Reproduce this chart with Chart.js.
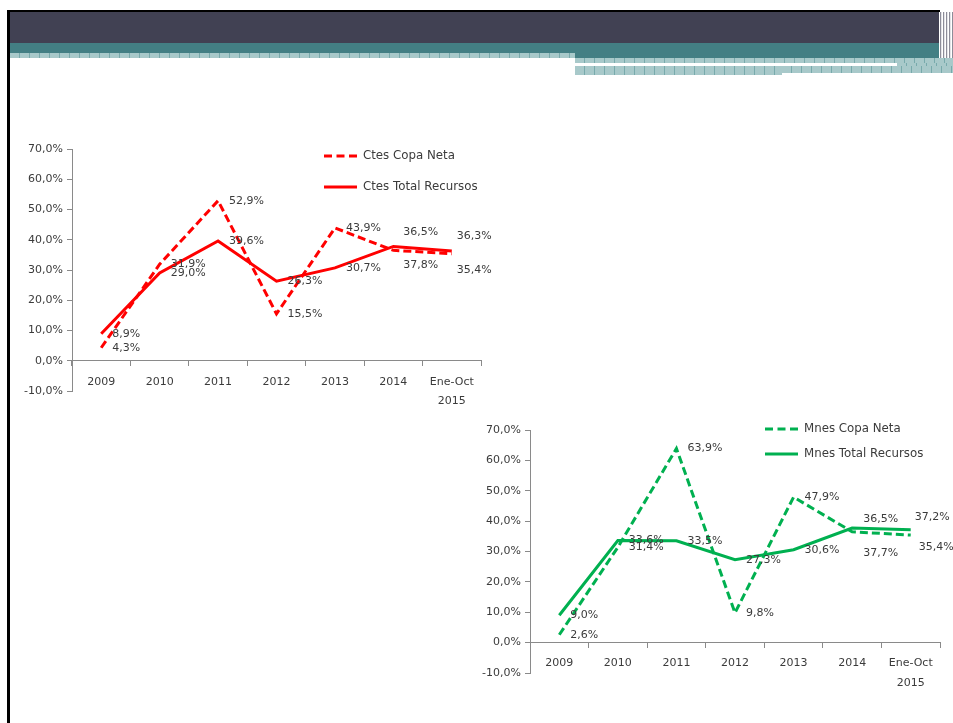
<!DOCTYPE html>
<html>
<head>
<meta charset="utf-8">
<script src="https://cdn.jsdelivr.net/npm/chart.js@4/dist/chart.umd.min.js"></script>
<style>
  body { margin: 0; background: #fff; width: 953px; height: 723px; overflow: hidden; position: relative; }
  .blk { position: absolute; }
  .hatch {
    background-color: #a8c9ca;
    background-image: repeating-linear-gradient(90deg, transparent 0 9px, #78aaac 9px 10px);
  }
  .edge {
    background-color: #d8d8dc;
    background-image: repeating-linear-gradient(90deg, #fff 0 1px, #8d8d99 1px 2px, #e4e4e8 2px 3px),
                      repeating-linear-gradient(0deg, transparent 0 2px, rgba(255,255,255,.6) 2px 3px);
  }
  canvas { position: absolute; }
</style>
</head>
<body>
<!-- slide frame -->
<div class="blk" style="left:7px;top:10px;width:3px;height:713px;background:#000"></div>
<div class="blk" style="left:7px;top:10px;width:933px;height:2px;background:#000"></div>
<div class="blk" style="left:10px;top:12px;width:930px;height:31px;background:#414153"></div>
<div class="blk" style="left:10px;top:43px;width:930px;height:10px;background:#437f84"></div>
<div class="blk" style="left:575px;top:53px;width:365px;height:5px;background:#437f84"></div>
<div class="blk hatch" style="left:10px;top:53px;width:565px;height:5px"></div>
<div class="blk hatch" style="left:575px;top:58px;width:378px;height:5px"></div>
<div class="blk hatch" style="left:897px;top:63px;width:56px;height:3px"></div>
<div class="blk hatch" style="left:575px;top:66px;width:207px;height:9px"></div>
<div class="blk hatch" style="left:782px;top:66px;width:171px;height:7px"></div>
<div class="blk edge" style="left:939px;top:12px;width:14px;height:46px"></div>

<canvas id="c1" width="500" height="290" style="left:10px;top:130px"></canvas>
<canvas id="c2" width="483" height="300" style="left:470px;top:410px"></canvas>

<script>
const years = ['2009', '2010', '2011', '2012', '2013', '2014', ['Ene-Oct', '2015']];

const ctesCopaNeta = [4.3, 31.9, 52.9, 15.5, 43.9, 36.5, 35.4];
const ctesTotalRecursos = [8.9, 29.0, 39.6, 26.3, 30.7, 37.8, 36.3];

const mnesCopaNeta = [2.6, 31.4, 63.9, 9.8, 47.9, 36.5, 35.4];
const mnesTotalRecursos = [9.0, 33.6, 33.5, 27.3, 30.6, 37.7, 37.2];

const yTicks = { min: -10, max: 70, step: 10 };

const FONT = '"DejaVu Sans", sans-serif';
const textColor = '#3b3b3b';
const axisColor = '#8a8a8a';
const pct = v => v.toFixed(1).replace('.', ',') + '%';

// label nudges (the 2014 / 2015 labels were moved apart in the original) and legend spots
const labelShifts = {
  c1: [{ 5: [10, -18], 6: [5, 16] }, { 5: [10, 19], 6: [5, -15] }],
  c2: [{ 5: [11, -13], 6: [8, 12] }, { 5: [11, 25], 6: [4, -12] }],
};
const legendSpots = {
  c1: { x: 314, y: 26, gap: 31 },
  c2: { x: 295, y: 19, gap: 25 },
};

// data labels + in-plot legend, Excel style
const labelsAndLegend = {
  id: 'labelsAndLegend',
  afterDatasetsDraw(chart) {
    const id = chart.canvas.id;
    const shifts = labelShifts[id];
    const lg = legendSpots[id];
    const ctx = chart.ctx;
    ctx.save();
    ctx.font = '11px ' + FONT;
    ctx.fillStyle = textColor;
    ctx.textAlign = 'left';
    ctx.textBaseline = 'middle';
    chart.data.datasets.forEach((ds, di) => {
      const meta = chart.getDatasetMeta(di);
      meta.data.forEach((pt, i) => {
        const s = shifts[di][i] || [11, 0];
        ctx.fillText(pct(ds.data[i]), pt.x + s[0], pt.y + s[1]);
      });
    });
    chart.data.datasets.forEach((ds, di) => {
      const y = lg.y + di * lg.gap;
      ctx.beginPath();
      ctx.strokeStyle = ds.borderColor;
      ctx.lineWidth = 3;
      ctx.setLineDash(ds.borderDash.length ? [8, 4.5] : []);
      ctx.moveTo(lg.x, y);
      ctx.lineTo(lg.x + 33, y);
      ctx.stroke();
      ctx.setLineDash([]);
      ctx.font = '11.8px ' + FONT;
      ctx.fillStyle = textColor;
      ctx.fillText(ds.label, lg.x + 39, y);
    });
    ctx.restore();
  }
};

function makeChart(canvas, color, names, dashed, solid, padding) {
  return new Chart(canvas.getContext('2d'), {
    type: 'line',
    data: {
      labels: years,
      datasets: [
        { label: names[0], data: dashed, borderColor: color, borderWidth: 3,
          borderDash: [8, 4], pointRadius: 0, tension: 0, fill: false },
        { label: names[1], data: solid, borderColor: color, borderWidth: 3,
          borderDash: [], pointRadius: 0, tension: 0, fill: false },
      ],
    },
    options: {
      responsive: false,
      animation: false,
      layout: { padding },
      plugins: {
        legend: { display: false },
        tooltip: { enabled: false },
      },
      scales: {
        x: {
          position: { y: 0 },
          offset: true,
          grid: { offset: true, drawOnChartArea: false, tickLength: 5, color: axisColor },
          border: { color: axisColor, width: 1 },
          ticks: { color: textColor, font: { family: FONT, size: 11, lineHeight: 1.8 }, padding: 6,
                   maxRotation: 0, autoSkip: false },
          afterFit: s => { s.height = 0; },
        },
        y: {
          min: yTicks.min, max: yTicks.max,
          grid: { drawOnChartArea: false, tickLength: 5, color: axisColor },
          border: { color: axisColor, width: 1 },
          ticks: { stepSize: yTicks.step, color: textColor, font: { family: FONT, size: 11 },
                   padding: 4, callback: v => pct(v) },
          afterFit: s => { s.width = 52; },
        },
      },
    },
    plugins: [labelsAndLegend],
  });
}

makeChart(document.getElementById('c1'), '#ff0000',
  ['Ctes Copa Neta', 'Ctes Total Recursos'], ctesCopaNeta, ctesTotalRecursos,
  { left: 10, top: 19, right: 29, bottom: 29 });

makeChart(document.getElementById('c2'), '#00b050',
  ['Mnes Copa Neta', 'Mnes Total Recursos'], mnesCopaNeta, mnesTotalRecursos,
  { left: 8, top: 20, right: 13, bottom: 37 });
</script>
</body>
</html>
